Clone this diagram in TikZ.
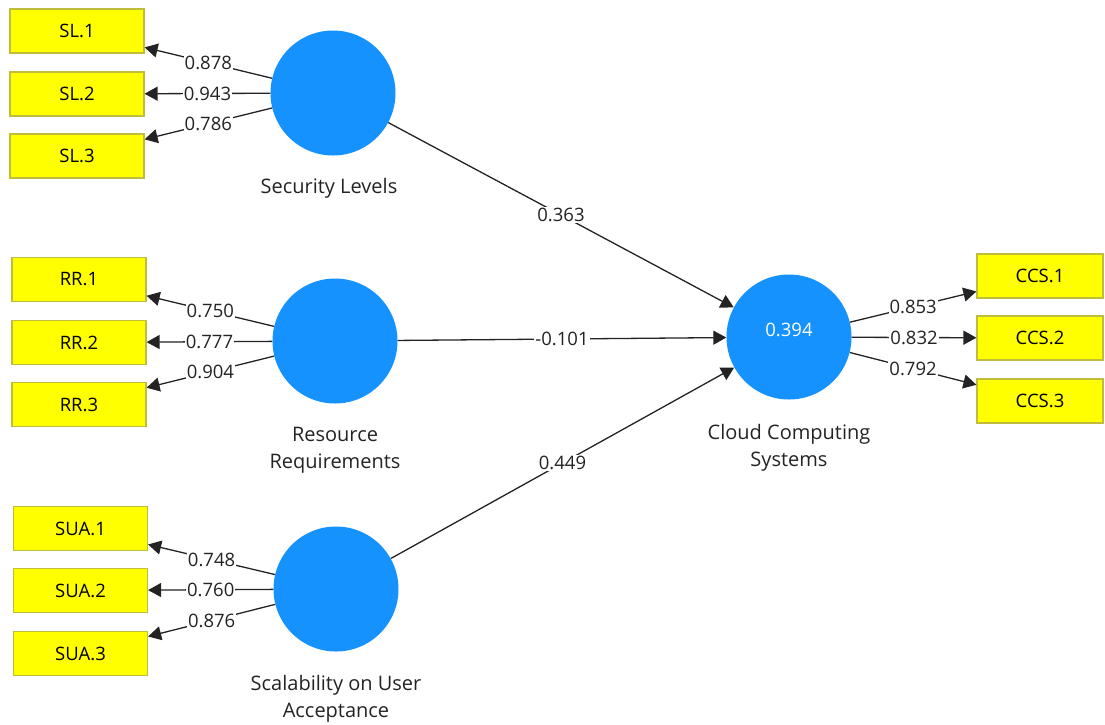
\documentclass[tikz,border=0pt]{standalone}
\usepackage{fontspec}
\setmainfont{Open Sans}
\usetikzlibrary{arrows.meta}

\definecolor{latblue}{RGB}{22,146,255}
\definecolor{indyellow}{RGB}{255,255,0}
\definecolor{indborder}{RGB}{190,190,60}
\definecolor{pathgray}{RGB}{35,35,35}

\tikzset{
  latent/.style={circle, fill=latblue, minimum size=125pt, inner sep=0pt,
    text=white, font=\fontsize{18.5}{27}\selectfont},
  indicator/.style={rectangle, draw=indborder, line width=1.2pt, fill=indyellow,
    minimum width=134pt, minimum height=44pt, inner sep=0pt,
    font=\fontsize{18.5}{27}\selectfont},
  latname/.style={align=center, text=pathgray, font=\fontsize{20}{27}\selectfont},
  weight/.style={fill=white, inner sep=1pt, text=pathgray,
    font=\fontsize{18.5}{27}\selectfont},
  path/.style={-{Triangle[length=13pt,width=14pt]}, line width=1.3pt, draw=pathgray}
}

\begin{document}
\begin{tikzpicture}[x=1pt, y=-1pt]

  \useasboundingbox (0,0) rectangle (1105,724);

  % --- Latent variables ---
  \node[latent] (SL)  at (333,93)  {};
  \node[latent] (RR)  at (335,341) {};
  \node[latent] (SUA) at (336,589) {};
  \node[latent, text depth=14pt] (CCS) at (789,337) {0.394};

  \node[latname] (SLname)  at (329,188)   {Security Levels};
  \node[latname] (RRname)  at (335,450.5) {Resource\\Requirements};
  \node[latname] (SUAname) at (336,699)   {Scalability on User\\Acceptance};
  \node[latname] (CCSname) at (789,447.5) {Cloud Computing\\Systems};

  % --- Indicators ---
  \node[indicator] (SL1) at (77,31)  {SL.1};
  \node[indicator] (SL2) at (77,94)  {SL.2};
  \node[indicator] (SL3) at (77,156) {SL.3};

  \node[indicator] (RR1) at (79,279.5) {RR.1};
  \node[indicator] (RR2) at (79,342.5) {RR.2};
  \node[indicator] (RR3) at (79,404.5) {RR.3};

  \node[indicator] (SUA1) at (80.5,528.5) {SUA.1};
  \node[indicator] (SUA2) at (80.5,590.5) {SUA.2};
  \node[indicator] (SUA3) at (80.5,653.5) {SUA.3};

  \node[indicator, minimum width=126pt] (CCS1) at (1040,276) {CCS.1};
  \node[indicator, minimum width=126pt] (CCS2) at (1040,338) {CCS.2};
  \node[indicator, minimum width=126pt] (CCS3) at (1040,401) {CCS.3};

  % --- Outer loadings ---
  \draw[path] (SL) -- node[weight] {0.878} (SL1);
  \draw[path] (SL) -- node[weight] {0.943} (SL2);
  \draw[path] (SL) -- node[weight] {0.786} (SL3);

  \draw[path] (RR) -- node[weight] {0.750} (RR1);
  \draw[path] (RR) -- node[weight] {0.777} (RR2);
  \draw[path] (RR) -- node[weight] {0.904} (RR3);

  \draw[path] (SUA) -- node[weight] {0.748} (SUA1);
  \draw[path] (SUA) -- node[weight] {0.760} (SUA2);
  \draw[path] (SUA) -- node[weight] {0.876} (SUA3);

  \draw[path] (CCS) -- node[weight] {0.853} (CCS1);
  \draw[path] (CCS) -- node[weight] {0.832} (CCS2);
  \draw[path] (CCS) -- node[weight] {0.792} (CCS3);

  % --- Path coefficients ---
  \draw[path] (SL)  -- node[weight] {0.363}  (CCS);
  \draw[path] (RR)  -- node[weight] {-0.101} (CCS);
  \draw[path] (SUA) -- node[weight] {0.449}  (CCS);

\end{tikzpicture}
\end{document}
